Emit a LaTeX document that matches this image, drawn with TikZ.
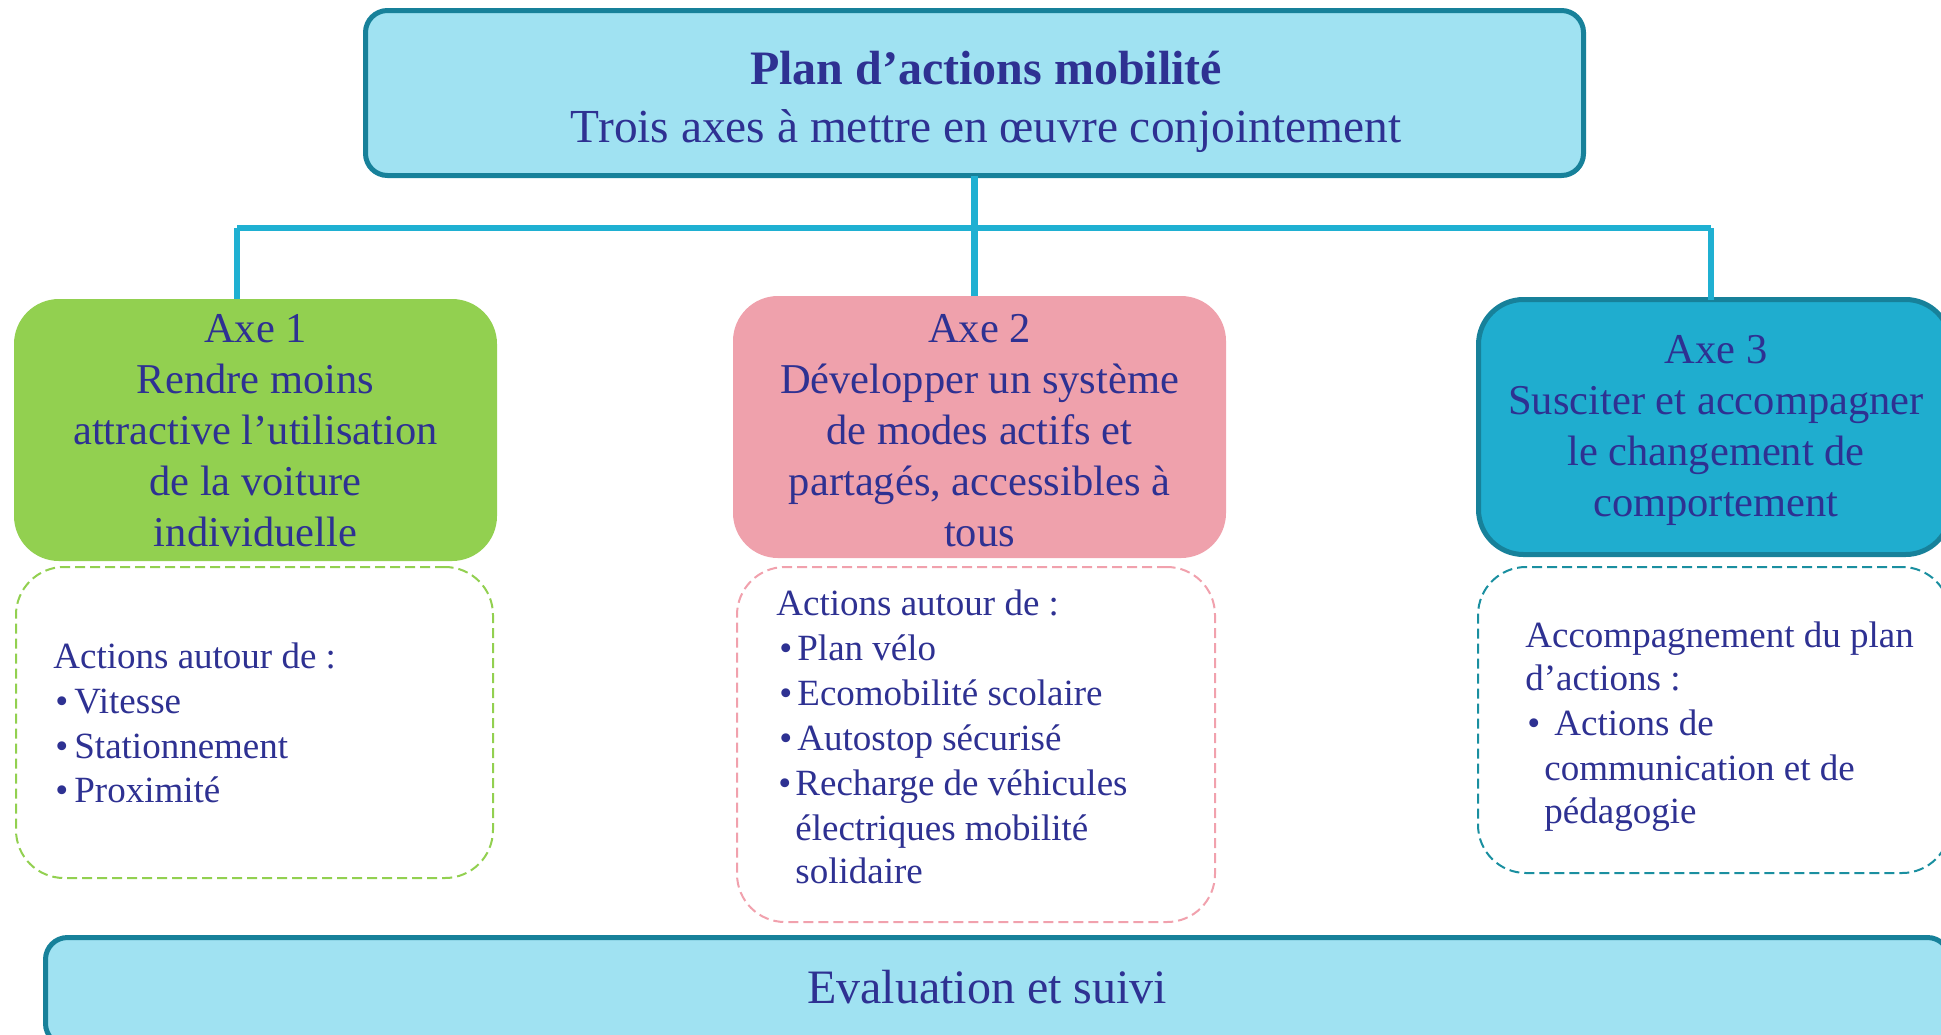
\documentclass[tikz,border=0pt]{standalone}
\usepackage{fontspec}
\setmainfont{Liberation Serif}
\definecolor{txtc}{HTML}{2E3192}
\definecolor{lightcyan}{HTML}{A0E2F2}
\definecolor{tealborder}{HTML}{17819A}
\definecolor{connc}{HTML}{1FB0D2}
\definecolor{greenfill}{HTML}{92D050}
\definecolor{pinkfill}{HTML}{EFA1AC}
\definecolor{bluefill}{HTML}{1FADCF}
\definecolor{pinkdash}{HTML}{F1A1AD}
\definecolor{tealdash}{HTML}{1A8FA0}
\begin{document}
\begin{tikzpicture}[x=0.5pt,y=-0.5pt,
  boxbase/.style={anchor=north west, inner sep=0pt, outer sep=0pt},
  bigbox/.style={boxbase, fill=lightcyan, draw=tealborder, line width=2.5pt, rounded corners=11pt},
  axebox/.style={boxbase, rounded corners=22.5pt},
  dashbox/.style={boxbase, rounded corners=24pt, line width=1pt, dash pattern=on 5pt off 2.5pt, fill=white},
  conn/.style={draw=connc, line width=3.4pt},
  txtline/.style={inner sep=0pt, anchor=base, text=txtc},
  hdr/.style={txtline, font=\fontsize{21.25pt}{25.5pt}\selectfont},
  body/.style={inner sep=0pt, anchor=base west, text=txtc, font=\fontsize{18.5pt}{22.4pt}\selectfont},
  bigtxt/.style={txtline, font=\fontsize{23.7pt}{28pt}\selectfont}
]
\useasboundingbox (0,0) rectangle (1941,1034);

% boxes
\node[bigbox, minimum width=609pt, minimum height=82.5pt] (top) at (365.5,10.5) {};
\node[axebox, fill=greenfill, minimum width=241.5pt, minimum height=131pt] (axe1) at (14,299) {};
\node[axebox, fill=pinkfill, minimum width=246.5pt, minimum height=131pt] (axe2) at (733,296) {};
\node[axebox, fill=bluefill, draw=tealborder, line width=2.5pt, minimum width=236pt, minimum height=127.5pt] (axe3) at (1478.5,299.5) {};
\node[dashbox, draw=greenfill, minimum width=238.5pt, minimum height=155.5pt] (d1) at (16,567) {};
\node[dashbox, draw=pinkdash, minimum width=239pt, minimum height=177.5pt] (d2) at (737,567) {};
\node[dashbox, draw=tealdash, minimum width=236pt, minimum height=153pt] (d3) at (1478,567) {};
\node[bigbox, minimum width=952pt, minimum height=54pt] (bottom) at (45.5,937.5) {};

% connectors
\coordinate (hM) at (974.5,228);
\coordinate (hL) at (237,228);
\coordinate (hR) at (1711,228);
\draw[conn] (top.south) -- (hM);
\draw[conn] (hL) -- (hR);
\draw[conn] (hL) -- (hL |- axe1.north);
\draw[conn] (hM) -- (hM |- axe2.north);
\draw[conn] (hR) -- (hR |- axe3.north);

% title
\node[txtline, font=\fontsize{24pt}{28pt}\selectfont\bfseries] (t1) at (986,84) {Plan d’actions mobilité};
\node[bigtxt] (t2) at (986,142) {Trois axes à mettre en œuvre conjointement};

% axe headers
\foreach \t [count=\i] in {Axe 1, Rendre moins, attractive l’utilisation, de la voiture, individuelle}
  \node[hdr] (a1t\i) at (255.5, {342+51*(\i-1)}) {\t};
\foreach \t [count=\i] in {Axe 2, Développer un système, de modes actifs et, {partagés, accessibles à}, tous}
  \node[hdr] (a2t\i) at (979.5, {342+51*(\i-1)}) {\t};
\foreach \t [count=\i] in {Axe 3, Susciter et accompagner, le changement de, comportement}
  \node[hdr] (a3t\i) at (1716, {363+51*(\i-1)}) {\t};

% body axe 1
\node[body] (b1a) at (53,668) {Actions autour de :};
\node[body] (b1b) at (55,713) {•};
\node[body] (b1c) at (74,713) {Vitesse};
\node[body] (b1d) at (55,758) {•};
\node[body] (b1e) at (74,758) {Stationnement};
\node[body] (b1f) at (55,802) {•};
\node[body] (b1g) at (74,802) {Proximité};

% body axe 2
\node[body] (b2a) at (776,615) {Actions autour de :};
\node[body] (b2b) at (779,660) {•};
\node[body] (b2c) at (797,660) {Plan vélo};
\node[body] (b2d) at (779,705) {•};
\node[body] (b2e) at (797,705) {Ecomobilité scolaire};
\node[body] (b2f) at (779,750) {•};
\node[body] (b2g) at (797,750) {Autostop sécurisé};
\node[body] (b2h) at (778,795) {•};
\node[body] (b2i) at (795,795) {Recharge de véhicules};
\node[body] (b2j) at (795,840) {électriques mobilité};
\node[body] (b2k) at (795,883) {solidaire};

% body axe 3
\node[body] (b3a) at (1525,647) {Accompagnement du plan};
\node[body] (b3b) at (1525,690) {d’actions :};
\node[body] (b3c) at (1527,735) {•};
\node[body] (b3d) at (1554,735) {Actions de};
\node[body] (b3e) at (1544,780) {communication et de};
\node[body] (b3f) at (1544,823) {pédagogie};

% bottom
\node[bigtxt, font=\fontsize{24pt}{28pt}\selectfont] (ev) at (987,1003) {Evaluation et suivi};
\end{tikzpicture}
\end{document}
